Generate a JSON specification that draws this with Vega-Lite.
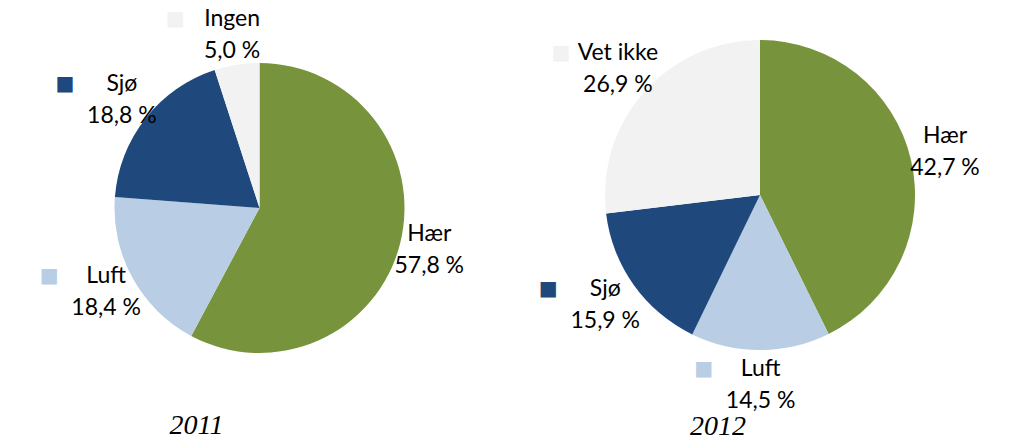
{
  "$schema": "https://vega.github.io/schema/vega-lite/v6.json",
  "padding": {"left": 5, "top": 5, "right": 5, "bottom": 0},
  "background": "white",
  "config": {
    "view": {"stroke": null},
    "locale": {"number": {"decimal": ",", "thousands": " ", "grouping": [3], "currency": ["", " %"]}},
    "text": {"font": "Lato", "fontSize": 23}
  },
  "datasets": {
    "forsvar": [
      {"year": 2011, "category": "Hær", "value": 57.8},
      {"year": 2011, "category": "Luft", "value": 18.4},
      {"year": 2011, "category": "Sjø", "value": 18.8},
      {"year": 2011, "category": "Ingen", "value": 5.0},
      {"year": 2012, "category": "Hær", "value": 42.7},
      {"year": 2012, "category": "Luft", "value": 14.5},
      {"year": 2012, "category": "Sjø", "value": 15.9},
      {"year": 2012, "category": "Vet ikke", "value": 26.9}
    ]
  },
  "spacing": 10,
  "resolve": {"scale": {"theta": "independent"}},
  "hconcat": [
    {
      "width": 509,
      "height": 406,
      "title": {"text": "2011", "orient": "bottom", "font": "Liberation Serif", "fontStyle": "italic", "fontWeight": "normal", "fontSize": 28, "dx": -63, "offset": 1, "color": "black"},
      "data": {"name": "forsvar"},
      "transform": [
        {"filter": "datum.year === 2011"},
        {"window": [{"op": "row_number", "as": "rank"}]}
      ],
      "encoding": {
        "theta": {"field": "value", "type": "quantitative", "stack": true},
        "order": {"field": "rank", "type": "quantitative"}
      },
      "layer": [
        {
          "mark": {"type": "arc", "outerRadius": 145},
          "encoding": {
            "color": {"field": "category", "type": "nominal", "legend": null,
              "scale": {"domain": ["Hær", "Luft", "Sjø", "Ingen", "Vet ikke"], "range": ["#77933C", "#B9CDE5", "#1F497D", "#F2F2F2", "#F2F2F2"]}}
          }
        },
        {
          "mark": {"type": "text", "radius": 175, "text": "■", "dx": -57, "dy": -16, "font": "DejaVu Sans", "fontSize": 20},
          "encoding": {
            "color": {"field": "category", "type": "nominal", "legend": null}
          }
        },
        {
          "mark": {"type": "text", "radius": 175, "dy": -16, "color": "black"},
          "encoding": {
            "text": {"field": "category", "type": "nominal"},
            "detail": {"field": "category", "type": "nominal"}
          }
        },
        {
          "mark": {"type": "text", "radius": 175, "dy": 16, "color": "black"},
          "encoding": {
            "text": {"field": "value", "type": "quantitative", "format": "$.1f"},
            "detail": {"field": "category", "type": "nominal"}
          }
        }
      ]
    },
    {
      "width": 472,
      "height": 380,
      "title": {"text": "2012", "orient": "bottom", "font": "Liberation Serif", "fontStyle": "italic", "fontWeight": "normal", "fontSize": 28, "dx": -42, "offset": 0, "color": "black"},
      "data": {"name": "forsvar"},
      "transform": [
        {"filter": "datum.year === 2012"},
        {"window": [{"op": "row_number", "as": "rank"}]}
      ],
      "encoding": {
        "theta": {"field": "value", "type": "quantitative", "stack": true},
        "order": {"field": "rank", "type": "quantitative"}
      },
      "layer": [
        {
          "mark": {"type": "arc", "outerRadius": 155},
          "encoding": {
            "color": {"field": "category", "type": "nominal", "legend": null}
          }
        },
        {
          "mark": {"type": "text", "radius": 190, "text": "■", "dx": -57, "dy": -16, "font": "DejaVu Sans", "fontSize": 20},
          "encoding": {
            "color": {"field": "category", "type": "nominal", "legend": null}
          }
        },
        {
          "mark": {"type": "text", "radius": 190, "dy": -16, "color": "black"},
          "encoding": {
            "text": {"field": "category", "type": "nominal"},
            "detail": {"field": "category", "type": "nominal"}
          }
        },
        {
          "mark": {"type": "text", "radius": 190, "dy": 16, "color": "black"},
          "encoding": {
            "text": {"field": "value", "type": "quantitative", "format": "$.1f"},
            "detail": {"field": "category", "type": "nominal"}
          }
        }
      ]
    }
  ]
}
